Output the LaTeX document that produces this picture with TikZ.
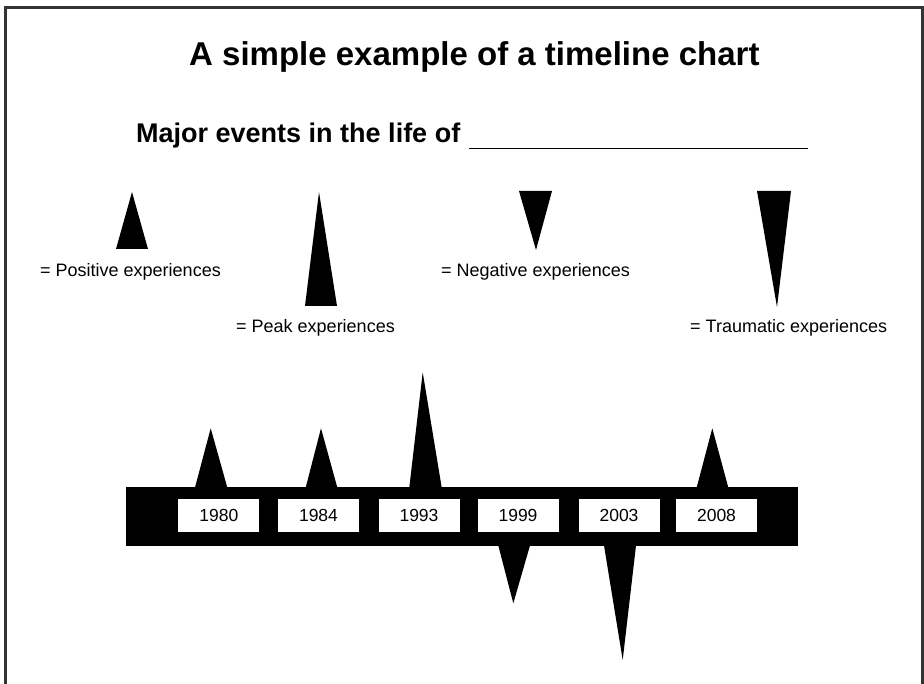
\documentclass[tikz,border=0pt]{standalone}
\usepackage{fontspec}
\setmainfont{Liberation Sans}
\begin{document}
\begin{tikzpicture}[x=1pt,y=-1pt,
  spike/.style={fill=black},
  label/.style={anchor=base west, inner sep=0pt, font=\fontsize{18}{21}\selectfont},
  yearbox/.style={fill=white, inner sep=0pt, minimum width=81pt, minimum height=33pt,
                  font=\fontsize{17.5}{20}\selectfont},
  bar/.style={fill=black, inner sep=0pt, minimum width=672pt, minimum height=59pt}]
\useasboundingbox (0,0) rectangle (924,684);

% outer frame (runs off the bottom edge)
\draw[line width=3pt, black!80] (5.5,684) -- (5.5,7.5) -- (922,7.5) -- (922,684);

% headings
\node[anchor=base west, inner sep=0pt, font=\bfseries\fontsize{33}{38}\selectfont]
  (title) at (189,66) {A simple example of a timeline chart};
\node[anchor=base west, inner sep=0pt, font=\bfseries\fontsize{27}{31}\selectfont]
  (subtitle) at (136,143) {Major events in the life of};
\coordinate (lineL) at (469,148.5);
\coordinate (lineR) at (808,148.5);
\draw[line width=1.5pt] (lineL) -- (lineR);

% legend
\fill[spike] (116,249) -- (132,192) -- (148,249) -- cycle;
\node[label] (lpos) at (40,277) {= Positive experiences};
\fill[spike] (305,306) -- (319,192) -- (337,306) -- cycle;
\node[label] (lpeak) at (236,333) {= Peak experiences};
\fill[spike] (519,191) -- (552,191) -- (536,250) -- cycle;
\node[label] (lneg) at (441,277) {= Negative experiences};
\fill[spike] (757,191) -- (791,191) -- (777,307) -- cycle;
\node[label] (ltrau) at (690,333) {= Traumatic experiences};

% timeline bar and year boxes
\node[bar] (bar) at (462,516.5) {};
\node[yearbox] (y1980) at (218.8,515) {1980};
\node[yearbox] (y1984) at (318.5,515) {1984};
\node[yearbox] (y1993) at (419,515) {1993};
\node[yearbox] (y1999) at (518,515) {1999};
\node[yearbox] (y2003) at (619,515) {2003};
\node[yearbox] (y2008) at (716.5,515) {2008};

% events above the bar
\fill[spike] (195,487.5) -- (210.7,428.3) -- (227.3,487.5) -- cycle;
\fill[spike] (305.7,487.5) -- (321,428.3) -- (337.3,487.5) -- cycle;
\fill[spike] (409.3,487.5) -- (422.7,372.3) -- (441.7,487.5) -- cycle;
\fill[spike] (696.7,487.5) -- (712.3,428.3) -- (728.3,487.5) -- cycle;
% events below the bar
\fill[spike] (498.3,545.5) -- (513.3,603.3) -- (530,545.5) -- cycle;
\fill[spike] (604,545.5) -- (622.7,660) -- (636,545.5) -- cycle;
\end{tikzpicture}
\end{document}
